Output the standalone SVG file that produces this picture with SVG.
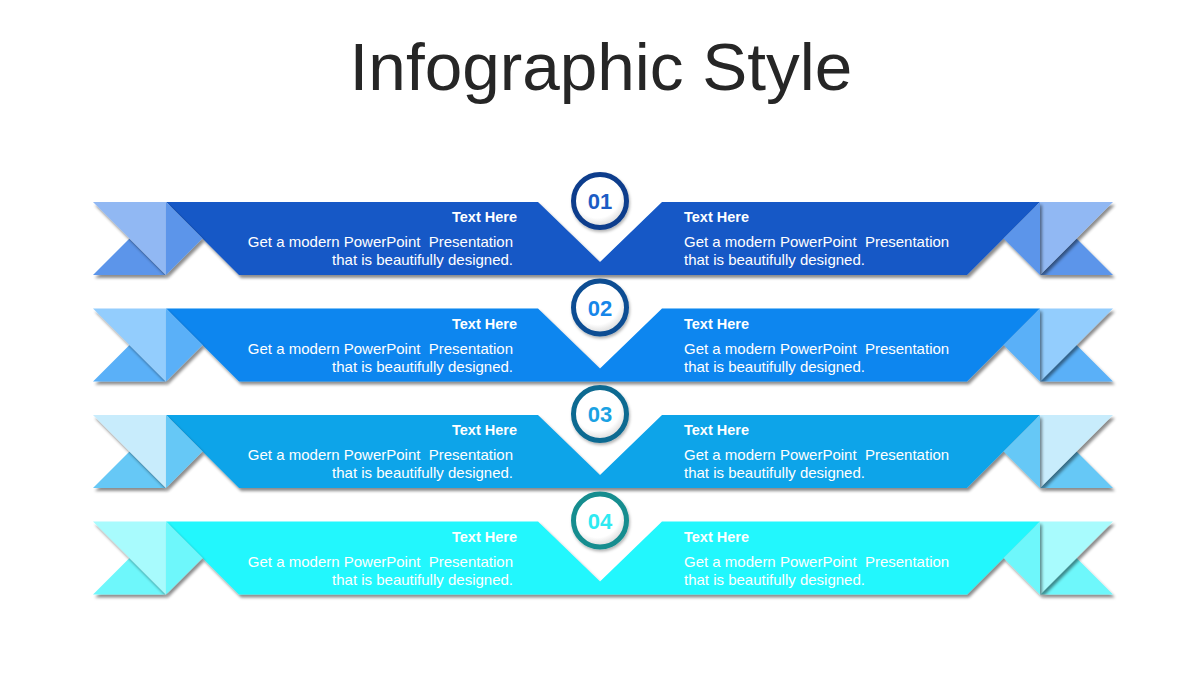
<svg xmlns="http://www.w3.org/2000/svg" width="1200" height="675" viewBox="0 0 1200 675">
<defs>
<filter id="sh" x="-20%" y="-20%" width="140%" height="150%">
<feDropShadow dx="2" dy="3" stdDeviation="1.6" flood-color="#000" flood-opacity="0.45"/>
</filter>
<filter id="csh" x="-30%" y="-30%" width="160%" height="160%">
<feDropShadow dx="1" dy="2" stdDeviation="1.5" flood-color="#000" flood-opacity="0.3"/>
</filter>
<radialGradient id="inner" cx="0.45" cy="0.4" r="0.6">
<stop offset="0.7" stop-color="#ffffff"/>
<stop offset="1" stop-color="#d8d8d8"/>
</radialGradient>
</defs>
<style>
text{white-space:pre}
.title{font-family:"Liberation Sans",Arial,sans-serif;font-size:67.5px;fill:#262626}
.hd{font-family:"Liberation Sans",Arial,sans-serif;font-size:14.5px;font-weight:bold;fill:#ffffff}
.bd{font-family:"Liberation Sans",Arial,sans-serif;font-size:15px;fill:#ffffff}
.num{font-family:"Liberation Sans",Arial,sans-serif;font-size:22px;font-weight:bold;text-anchor:middle}
.l{text-anchor:end}
polygon{filter:url(#sh)}
.r1 .band{fill:#1358c6}.r1 .med{fill:#5b95ea}.r1 .lt{fill:#91b8f3}.r1 .ring{stroke:#0e3e8c}.r1 .num{fill:#1c5cc4}
.r2 .band{fill:#0a86ef}.r2 .med{fill:#5ab0f8}.r2 .lt{fill:#93cdfd}.r2 .ring{stroke:#0b4e93}.r2 .num{fill:#1686e9}
.r3 .band{fill:#0ea4e9}.r3 .med{fill:#66c8f6}.r3 .lt{fill:#c8ecfc}.r3 .ring{stroke:#0f6a91}.r3 .num{fill:#1aa2e3}
.r4 .band{fill:#22f7fd}.r4 .med{fill:#6ef7fb}.r4 .lt{fill:#a8fbfd}.r4 .ring{stroke:#148d8f}.r4 .num{fill:#2eeaf2}
.ring{fill:url(#inner);stroke-width:5}
</style>
<rect width="1200" height="675" fill="#ffffff"/>
<text class="title" x="601" y="90" text-anchor="middle">Infographic Style</text>

<g id="row1" class="r1">
<polygon class="med" points="93,275 166,275 129.5,238.5"/>
<polygon class="lt" points="93,202 166,202 166,275"/>
<polygon class="med" points="1113,275 1040,275 1076.5,238.5"/>
<polygon class="lt" points="1113,202 1040,202 1040,275"/>
<polygon class="band" points="166,202 538,202 600,262 662,202 1040,202 967,275 239,275"/>
<polygon class="med" points="166,202 202.5,238.5 166,275"/>
<polygon class="med" points="1040,202 1003.5,238.5 1040,275"/>
<circle class="ring" cx="600" cy="201" r="26.5" filter="url(#csh)"/>
<text class="num" x="600" y="209">01</text>
<text class="hd l" x="517" y="222">Text Here</text>
<text class="bd l" x="513" y="247">Get a modern PowerPoint  Presentation</text>
<text class="bd l" x="513" y="265">that is beautifully designed.</text>
<text class="hd" x="684" y="222">Text Here</text>
<text class="bd" x="684" y="247">Get a modern PowerPoint  Presentation</text>
<text class="bd" x="684" y="265">that is beautifully designed.</text>
</g>

<g id="row2" class="r2" transform="translate(0,106.5)">
<polygon class="med" points="93,275 166,275 129.5,238.5"/>
<polygon class="lt" points="93,202 166,202 166,275"/>
<polygon class="med" points="1113,275 1040,275 1076.5,238.5"/>
<polygon class="lt" points="1113,202 1040,202 1040,275"/>
<polygon class="band" points="166,202 538,202 600,262 662,202 1040,202 967,275 239,275"/>
<polygon class="med" points="166,202 202.5,238.5 166,275"/>
<polygon class="med" points="1040,202 1003.5,238.5 1040,275"/>
<circle class="ring" cx="600" cy="201" r="26.5" filter="url(#csh)"/>
<text class="num" x="600" y="209">02</text>
<text class="hd l" x="517" y="222">Text Here</text>
<text class="bd l" x="513" y="247">Get a modern PowerPoint  Presentation</text>
<text class="bd l" x="513" y="265">that is beautifully designed.</text>
<text class="hd" x="684" y="222">Text Here</text>
<text class="bd" x="684" y="247">Get a modern PowerPoint  Presentation</text>
<text class="bd" x="684" y="265">that is beautifully designed.</text>
</g>

<g id="row3" class="r3" transform="translate(0,213)">
<polygon class="med" points="93,275 166,275 129.5,238.5"/>
<polygon class="lt" points="93,202 166,202 166,275"/>
<polygon class="med" points="1113,275 1040,275 1076.5,238.5"/>
<polygon class="lt" points="1113,202 1040,202 1040,275"/>
<polygon class="band" points="166,202 538,202 600,262 662,202 1040,202 967,275 239,275"/>
<polygon class="med" points="166,202 202.5,238.5 166,275"/>
<polygon class="med" points="1040,202 1003.5,238.5 1040,275"/>
<circle class="ring" cx="600" cy="201" r="26.5" filter="url(#csh)"/>
<text class="num" x="600" y="209">03</text>
<text class="hd l" x="517" y="222">Text Here</text>
<text class="bd l" x="513" y="247">Get a modern PowerPoint  Presentation</text>
<text class="bd l" x="513" y="265">that is beautifully designed.</text>
<text class="hd" x="684" y="222">Text Here</text>
<text class="bd" x="684" y="247">Get a modern PowerPoint  Presentation</text>
<text class="bd" x="684" y="265">that is beautifully designed.</text>
</g>

<g id="row4" class="r4" transform="translate(0,319.5)">
<polygon class="med" points="93,275 166,275 129.5,238.5"/>
<polygon class="lt" points="93,202 166,202 166,275"/>
<polygon class="med" points="1113,275 1040,275 1076.5,238.5"/>
<polygon class="lt" points="1113,202 1040,202 1040,275"/>
<polygon class="band" points="166,202 538,202 600,262 662,202 1040,202 967,275 239,275"/>
<polygon class="med" points="166,202 202.5,238.5 166,275"/>
<polygon class="med" points="1040,202 1003.5,238.5 1040,275"/>
<circle class="ring" cx="600" cy="201" r="26.5" filter="url(#csh)"/>
<text class="num" x="600" y="209">04</text>
<text class="hd l" x="517" y="222">Text Here</text>
<text class="bd l" x="513" y="247">Get a modern PowerPoint  Presentation</text>
<text class="bd l" x="513" y="265">that is beautifully designed.</text>
<text class="hd" x="684" y="222">Text Here</text>
<text class="bd" x="684" y="247">Get a modern PowerPoint  Presentation</text>
<text class="bd" x="684" y="265">that is beautifully designed.</text>
</g>
</svg>
